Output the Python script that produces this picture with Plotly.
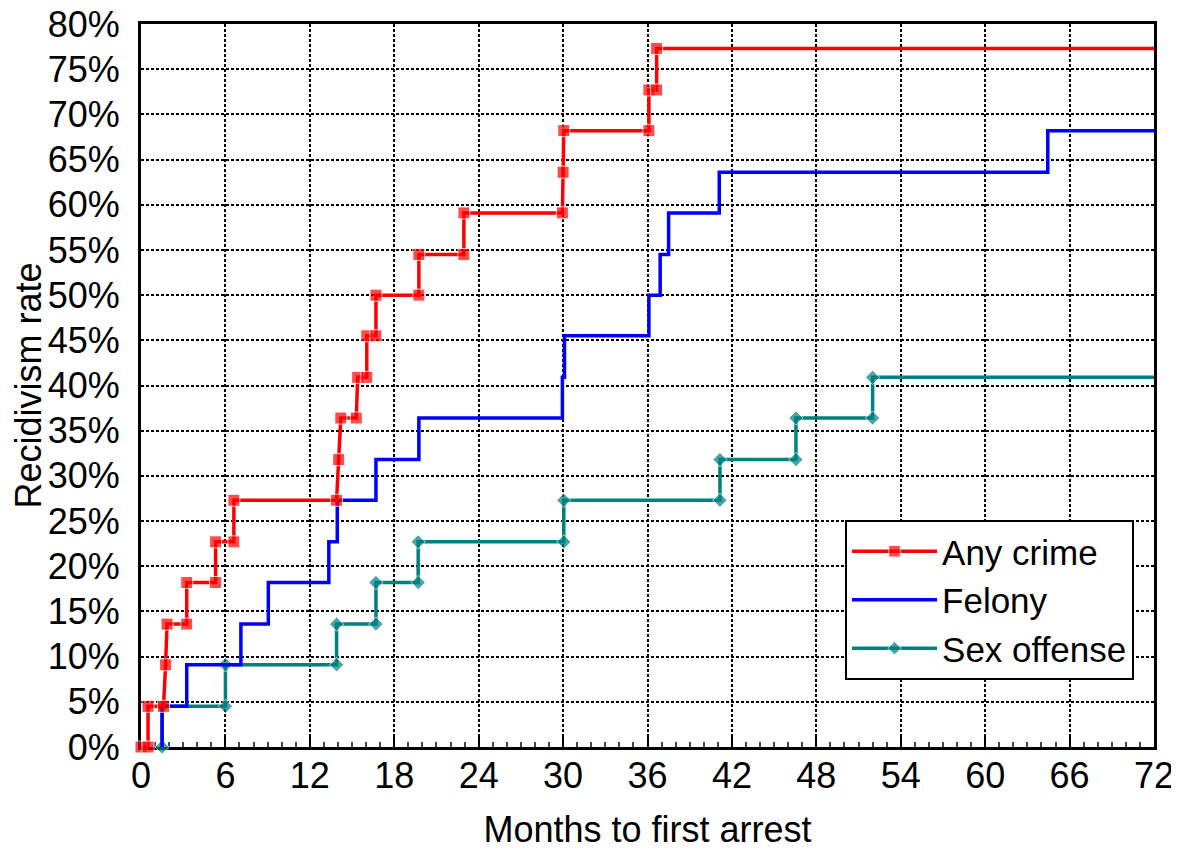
import plotly.graph_objects as go

# ---- data (months, percent) ----
month_ticks = list(range(0, 73, 6))
pct_ticks = list(range(0, 81, 5))

any_x = [0.0, 0.5, 0.5, 1.6, 1.75, 1.85, 3.25, 3.25, 5.3, 5.3, 6.6, 6.6,
         13.9, 14.05, 14.2, 15.3, 15.4, 16.05, 16.05, 16.7, 16.7, 19.75, 19.75,
         22.95, 22.95, 29.95, 30.0, 30.05, 36.1, 36.1, 36.65, 36.65, 72.0]
any_y = [0.0, 0.0, 4.5, 4.5, 9.1, 13.6, 13.6, 18.2, 18.2, 22.7, 22.7, 27.3,
         27.3, 31.8, 36.4, 36.4, 40.9, 40.9, 45.5, 45.5, 50.0, 50.0, 54.5,
         54.5, 59.1, 59.1, 63.6, 68.2, 68.2, 72.7, 72.7, 77.3, 77.3]

felony_x = [1.5, 1.5, 3.25, 3.25, 7.1, 7.1, 9.05, 9.05, 13.35, 13.35, 13.95, 13.95,
            16.7, 16.7, 19.75, 19.75, 29.95, 29.95, 30.1, 30.1, 36.1, 36.1,
            36.9, 36.9, 37.5, 37.5, 41.1, 41.1, 64.45, 64.45, 72.0]
felony_y = [0.0, 4.5, 4.5, 9.1, 9.1, 13.6, 13.6, 18.2, 18.2, 22.7, 22.7, 27.3,
            27.3, 31.8, 31.8, 36.4, 36.4, 40.9, 40.9, 45.5, 45.5, 50.0,
            50.0, 54.5, 54.5, 59.1, 59.1, 63.6, 63.6, 68.2, 68.2]

sex_x = [1.5, 1.5, 6.0, 6.0, 13.9, 13.9, 16.7, 16.7, 19.7, 19.7, 30.05, 30.05,
         41.15, 41.15, 46.55, 46.55, 52.0, 52.0, 72.0]
sex_y = [0.0, 4.5, 4.5, 9.1, 9.1, 13.6, 13.6, 18.2, 18.2, 22.7, 22.7, 27.3,
         27.3, 31.8, 31.8, 36.4, 36.4, 40.9, 40.9]

FONT = "Liberation Sans, Arial, sans-serif"
RED = "#FF0000"
BLUE = "#0000FF"
TEAL = "#008080"

fig = go.Figure()

# Sex offense (drawn first so the others sit above it)
fig.add_trace(go.Scatter(
    x=sex_x, y=sex_y, name="Sex offense", mode="lines+markers",
    line=dict(color=TEAL, width=3.5),
    marker=dict(symbol="diamond", color=TEAL,
                size=[11] * (len(sex_x) - 1) + [0]),
    cliponaxis=False, legendrank=3,
))
fig.add_trace(go.Scatter(
    x=felony_x, y=felony_y, name="Felony", mode="lines",
    line=dict(color=BLUE, width=3.5),
    cliponaxis=False, legendrank=2,
))
fig.add_trace(go.Scatter(
    x=any_x, y=any_y, name="Any crime", mode="lines+markers",
    line=dict(color=RED, width=3.5),
    marker=dict(symbol="square", color=RED,
                size=[12] * (len(any_x) - 1) + [0]),
    cliponaxis=False, legendrank=1,
))

grid = dict(showgrid=True, gridcolor="black", gridwidth=2, griddash="3px,2px")

fig.update_layout(
    width=1171, height=842,
    margin=dict(l=133, r=25, t=16, b=103, autoexpand=False),
    paper_bgcolor="white", plot_bgcolor="white",
    font=dict(family=FONT, color="black", size=36),
    showlegend=True,
    legend=dict(
        x=0.695, y=0.314, xanchor="left", yanchor="top",
        bgcolor="white", bordercolor="black", borderwidth=2,
        font=dict(family=FONT, size=35, color="black"),
        itemwidth=85, traceorder="normal",
    ),
    xaxis=dict(
        range=[0, 72], tickvals=month_ticks, ticktext=[str(v) for v in month_ticks],
        ticks="inside", ticklen=12, tickwidth=2, tickcolor="black",
        minor=dict(dtick=1, tick0=0, ticks="inside", ticklen=5, tickwidth=1.5,
                   tickcolor="#444", showgrid=False),
        showline=True, linewidth=3, linecolor="black", mirror=True,
        layer="below traces", zeroline=False,
        tickfont=dict(family=FONT, size=36), ticklabelstandoff=-5,
        ticklabeloverflow="allow",
        title=dict(text="Months to first arrest", font=dict(family=FONT, size=36),
                   standoff=32),
        automargin=False,
        **grid,
    ),
    yaxis=dict(
        range=[0, 80], tickvals=pct_ticks, ticktext=[f"{v}%" for v in pct_ticks],
        ticks="", showline=True, linewidth=3, linecolor="black", mirror=True,
        layer="below traces", zeroline=False,
        tickfont=dict(family=FONT, size=36), ticklabelstandoff=11,
        ticklabeloverflow="allow",
        title=dict(text="Recidivism rate", font=dict(family=FONT, size=36),
                   standoff=6),
        automargin=False,
        **grid,
    ),
)

fig.write_html("out.html")
